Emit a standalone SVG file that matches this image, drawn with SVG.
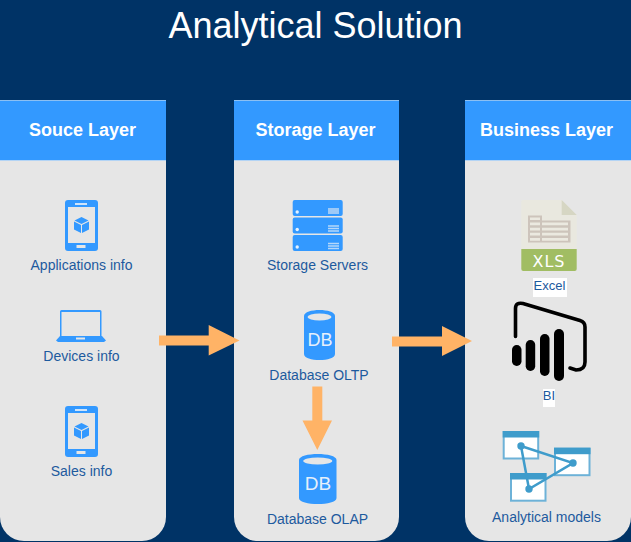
<svg xmlns="http://www.w3.org/2000/svg" width="631" height="542" viewBox="0 0 631 542">
<style>
.title{font:36px "Liberation Sans",Arial,sans-serif;fill:#fff;text-anchor:middle}
.head{font:bold 18px "Liberation Sans",Arial,sans-serif;fill:#fff;text-anchor:middle}
.lab{font:14px "Liberation Sans",Arial,sans-serif;fill:#1d5a9e;text-anchor:middle}
.panel{fill:#e6e6e6}
.hdr{fill:#3399ff}
.ic{fill:#3399ff}
.arrow{fill:#ffb366}
.win{fill:#fff;stroke:#6db2d8;stroke-width:2}
.bar{fill:#3f9ccb}
</style>
<rect width="631" height="542" fill="#003366"/>
<g id="title"><text class="title" x="315.500" y="38">Analytical Solution</text></g>

<g id="source-layer">
<path class="panel" d="M0 100H166V517a24 24 0 0 1-24 24H24a24 24 0 0 1-24-24Z"/>
<rect class="hdr" x="0" y="100.500" width="166" height="60"/>
<rect x="0" y="160" width="166" height="1" fill="#b3d4f5"/>
<text class="head" x="82.500" y="136">Souce Layer</text>
</g>
<g id="storage-layer">
<path class="panel" d="M234 100H399V517a24 24 0 0 1-24 24H258a24 24 0 0 1-24-24Z"/>
<rect class="hdr" x="234" y="100.500" width="165" height="60"/>
<rect x="234" y="160" width="165" height="1" fill="#b3d4f5"/>
<text class="head" x="315.500" y="136">Storage Layer</text>
</g>
<g id="business-layer">
<path class="panel" d="M465 100H631V517a24 24 0 0 1-24 24H489a24 24 0 0 1-24-24Z"/>
<rect class="hdr" x="465" y="100.500" width="166" height="60"/>
<rect x="465" y="160" width="166" height="1" fill="#b3d4f5"/>
<text class="head" x="546.500" y="136">Business Layer</text>
</g>

<defs>
<g id="phone">
<rect class="ic" x="0" y="0" width="33" height="51" rx="3"/>
<rect x="3" y="7" width="27" height="36" fill="#e6e6e6"/>
<rect x="10" y="3" width="12" height="2" fill="#cfe4fa"/>
<rect x="11.500" y="45" width="9" height="3" fill="#e6e6e6"/>
<path class="ic" d="M16.500 17l7 3.500-7 3.500-7-3.500Z"/>
<path class="ic" d="M9 21.500l7 3.500v8l-7-3.500Z"/>
<path class="ic" d="M24 21.500l-7 3.500v8l7-3.500Z"/>
</g>
<g id="db">
<path class="ic" d="M0 6C0-2 31-2 31 6V44C31 52 0 52 0 44Z"/>
<ellipse cx="15.500" cy="7" rx="12" ry="3.500" fill="#e6e6e6"/>
</g>
<g id="srv">
<rect class="ic" width="50" height="16" rx="2"/>
<circle cx="4.500" cy="12" r="1.700" fill="#e6f2ff"/>
</g>
</defs>

<g id="applications-info">
<use href="#phone" x="65" y="200"/>
<text class="lab" x="81.500" y="270">Applications info</text>
</g>
<g id="devices-info">
<path class="ic" d="M60 311.500a1.500 1.500 0 0 1 1.500-1.500H100a1.500 1.500 0 0 1 1.500 1.500V336H100V312H61.500V336H60Z"/>
<path class="ic" d="M60 336H102L106 340.500 104 342H58L56 340.500Z"/>
<rect x="76" y="337.500" width="9" height="2" fill="#e6e6e6"/>
<text class="lab" x="81.500" y="361">Devices info</text>
</g>
<g id="sales-info">
<use href="#phone" x="65" y="406"/>
<text class="lab" x="81.500" y="476">Sales info</text>
</g>

<g id="storage-servers">
<use href="#srv" x="292.700" y="200"/>
<use href="#srv" x="292.700" y="217.500"/>
<use href="#srv" x="292.700" y="235"/>
<rect x="328" y="208" width="11" height="6" fill="#9cc9f7"/>
<path d="M328 226h11M328 228.500h11M328 231h11M328 243.500h11M328 246h11M328 248.500h11" stroke="#b5d7fa" stroke-width="1.500" fill="none"/>
<text class="lab" x="317.500" y="270">Storage Servers</text>
</g>
<g id="database-oltp">
<use href="#db" x="304" y="310"/>
<text x="320" y="346" font-family="Liberation Sans,sans-serif" font-size="18" fill="#e6f0fb" text-anchor="middle">DB</text>
<text class="lab" x="319" y="380">Database OLTP</text>
</g>
<g id="database-olap">
<use href="#db" transform="translate(299 454) scale(1.210 1)"/>
<text x="318" y="490" font-family="Liberation Sans,sans-serif" font-size="19" fill="#e6f0fb" text-anchor="middle">DB</text>
<text class="lab" x="317.500" y="524">Database OLAP</text>
</g>

<g id="excel">
<path d="M523 200H561.700L576.700 215V249H521.300V201.700a1.700 1.700 0 0 1 1.700-1.700Z" fill="#e9e8df"/>
<path d="M561.700 200L576.700 215H561.700Z" fill="#d6d6c3"/>
<path d="M521.300 249H576.700V269a2 2 0 0 1-2 2H523.300a2 2 0 0 1-2-2Z" fill="#a1bd63"/>
<path d="M528 215.500H542V220.500H570.500V242.500H528Z" fill="#cdc4bb"/>
<path d="M530 217.500h10v2.500h-10ZM530 222.500h10v2.800h-10ZM530 227.700h10v2.800h-10ZM530 232.800h10v2.800h-10ZM530 238h10v2.800h-10ZM542 222.500h26v2.800h-26ZM542 227.700h26v2.800h-26ZM542 232.800h26v2.800h-26ZM542 238h26v2.800h-26Z" fill="#ebe9e0"/>
<text x="549" y="267" font-family="DejaVu Sans,sans-serif" font-size="16" letter-spacing="1" fill="#fff" text-anchor="middle">XLS</text>
<rect x="533" y="278" width="34" height="19" fill="#fff"/>
<text class="lab" x="549.500" y="290" style="font-size:13px">Excel</text>
</g>
<g id="bi">
<path d="M515.500 336.500V308.500Q515.500 302 523 303.500L580 320.500Q585 322 585 327V362Q585 370 576 370L570 368" fill="none" stroke="#000" stroke-width="3.600" stroke-linecap="round"/>
<rect x="512" y="345" width="9.500" height="21" rx="4.700"/>
<rect x="525.700" y="340" width="9.500" height="31" rx="4.700"/>
<rect x="540" y="334" width="9.500" height="42" rx="4.700"/>
<rect x="554" y="329" width="10" height="52" rx="5"/>
<rect x="543" y="389" width="12" height="18" fill="#fff"/>
<text class="lab" x="549" y="400" style="font-size:13px">BI</text>
</g>
<g id="analytical-models">
<rect class="win" x="503.700" y="432" width="34.500" height="26.500"/>
<rect class="bar" x="502.700" y="431" width="36.500" height="6.500"/>
<rect class="win" x="555" y="448.700" width="34.500" height="26.500"/>
<rect class="bar" x="554" y="447.700" width="36.500" height="6.500"/>
<rect class="win" x="511" y="474" width="34.500" height="26.700"/>
<rect class="bar" x="510" y="473" width="36.500" height="6.500"/>
<path d="M521 446L573 463L529 489Z" fill="none" stroke="#3f9ccb" stroke-width="2.500"/>
<circle class="bar" cx="521" cy="446" r="3.700"/>
<circle class="bar" cx="573" cy="463" r="3.700"/>
<circle class="bar" cx="529" cy="489" r="3.700"/>
<text class="lab" x="546.500" y="522">Analytical models</text>
</g>

<g id="connectors">
<path class="arrow" d="M159 335.500H208.700V325L239.500 340.500 208.700 355.500V345.500H159Z"/>
<path class="arrow" d="M392 336.500H442V326L472 341 442 356V346.500H392Z"/>
<path class="arrow" d="M312.300 386.500H322.300V420.500H332L317.300 450 302.500 420.500H312.300Z"/>
</g>
</svg>
